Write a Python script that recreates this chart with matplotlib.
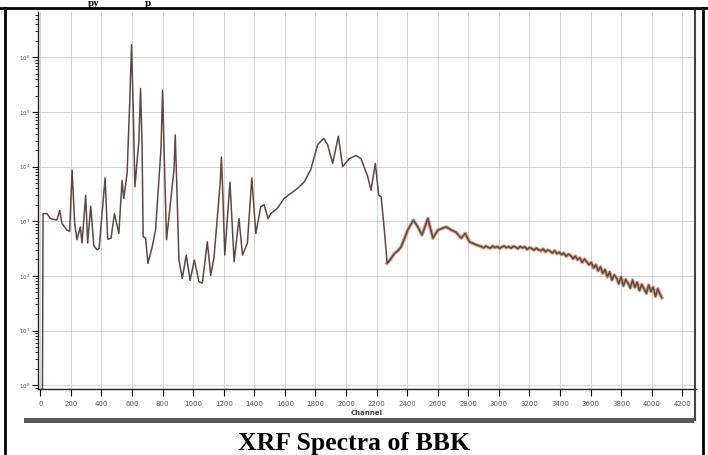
import matplotlib
matplotlib.use("Agg")
import matplotlib.pyplot as plt
from matplotlib.lines import Line2D
from matplotlib.patches import Rectangle
from matplotlib.ticker import LogLocator, NullFormatter, FixedLocator

# spectrum (channel, counts)
channel = [14, 18, 44, 66, 109, 127, 142, 175, 192, 208, 225, 240, 262, 273, 297,
           310, 330, 350, 371, 385, 424, 441, 463, 485, 514, 535, 546, 568, 585, 597,
           608, 619, 645, 656, 666, 673, 689, 704, 732, 754, 790, 800, 810, 826, 875,
           883, 891, 907, 929, 955, 980,
           1008, 1038, 1060, 1093, 1115, 1137, 1178, 1185, 1192, 1207, 1241, 1268, 1300,
           1323, 1355, 1384, 1410, 1443, 1464, 1490, 1508, 1552, 1596, 1639, 1683, 1727,
           1770, 1814, 1854, 1880, 1913, 1950, 1978, 2022, 2066, 2098, 2142, 2164,
           2192, 2214, 2230, 2251, 2269, 2290, 2317, 2340, 2361, 2404, 2441, 2470,
           2497, 2536, 2569, 2601, 2656, 2689, 2720, 2754, 2780, 2808, 2863,
           2885, 2900, 2915, 2930, 2945, 2960, 2975, 2990, 3005, 3020, 3035, 3050,
           3065, 3080, 3095, 3110, 3125, 3140, 3155, 3170, 3185, 3200, 3215, 3230,
           3245, 3260, 3275, 3290, 3305, 3320, 3335, 3350, 3365, 3380, 3395, 3410,
           3425, 3440, 3455, 3470, 3485, 3500, 3515, 3530, 3545, 3560, 3575, 3590,
           3605, 3620, 3635, 3650, 3665, 3680, 3695, 3710, 3725, 3740, 3755, 3770,
           3785, 3800, 3815, 3830, 3845, 3860, 3875, 3890, 3905, 3920, 3935, 3950,
           3965, 3980, 3995, 4010, 4025, 4040, 4055, 4066]
counts = [0.5, 1380, 1380, 1120, 1050, 1580, 910, 690, 650, 8700, 910, 460, 790, 400, 3000,
          400, 1900, 360, 300, 320, 6200, 470, 490, 1380, 600, 5600, 2600, 7600, 1.5e5, 1.7e6,
          1.2e5, 4300, 3.0e4, 2.7e5, 2.5e4, 520, 490, 170, 340, 690, 2.2e4, 2.5e5, 2.0e4, 460, 9000,
          38000, 7000, 195, 90, 240, 83,
          195, 78, 74, 420, 102, 224, 5500, 15000, 5000, 240, 5200, 182, 1120,
          240, 400, 6200, 600, 1860, 2000, 1120, 1380, 1740, 2630, 3240, 4000, 5250,
          8900, 25000, 33000, 25000, 11500, 36000, 10000, 14000, 16000, 14000, 6600, 3700,
          11500, 3000, 2800, 690, 170, 200, 257, 290, 340, 690, 1050, 790,
          560, 1120, 490, 690, 790, 690, 630, 490, 600, 420, 360,
          345, 326, 350, 334, 322, 352, 330, 346, 318, 338, 352, 328,
          344, 322, 348, 336, 316, 344, 326, 340, 306, 330, 318, 296,
          322, 300, 290, 312, 276, 298, 284, 262, 290, 256, 270, 246,
          262, 228, 250, 236, 206, 230, 198, 214, 176, 204, 180, 160,
          176, 140, 160, 124, 146, 112, 130, 96, 118, 84, 104, 92,
          72, 96, 66, 86, 74, 60, 84, 62, 76, 54, 70, 58,
          48, 68, 52, 62, 42, 58, 46, 40]

xticks = list(range(0, 4201, 200))
decades = [1, 10, 100, 1000, 1e4, 1e5, 1e6]
ylabels = [r"$10^{%d}$" % i for i in range(7)]

W, H = 708, 455
fig = plt.figure(figsize=(W / 100, H / 100), dpi=100)


def fx(px):
    return px / W


def fy(py):
    return 1 - py / H


ax = fig.add_axes([fx(38), fy(389), fx(696) - fx(38), fy(12) - fy(389)])
ax.set_yscale("log")
ax.set_xlim(-15, 4290)
ax.set_ylim(10 ** -0.07, 10 ** 6.83)

ax.set_xticks(xticks)
ax.set_xticklabels([str(t) for t in xticks], fontsize=5, color="#555555")
ax.yaxis.set_major_locator(FixedLocator(decades))
ax.set_yticklabels(ylabels, fontsize=4, color="#555555")
ax.yaxis.set_minor_locator(LogLocator(base=10, subs=range(2, 10)))
ax.yaxis.set_minor_formatter(NullFormatter())
ax.tick_params(axis="x", direction="out", length=5, width=0.8, pad=4)
ax.tick_params(axis="y", which="major", direction="out", length=4, width=0.8, pad=1.5)
ax.tick_params(axis="y", which="minor", direction="out", length=2, width=0.6)

ax.grid(True, which="major", color="#cdcdcd", linewidth=0.6)
for s in ["top", "right"]:
    ax.spines[s].set_visible(False)
for s in ["left", "bottom"]:
    ax.spines[s].set_linewidth(1.0)
    ax.spines[s].set_color("#222222")

ax.set_xlabel("Channel", fontsize=5, fontweight="bold", color="#444444", labelpad=2)

# tail of the spectrum has an orange cast in the scan
tail = [i for i, c in enumerate(channel) if c >= 2269]
ax.plot([channel[i] for i in tail], [counts[i] for i in tail],
        color="#c87a4c", linewidth=2.6, alpha=0.7, zorder=2)
ax.plot(channel, counts, color="#5c4846", linewidth=1.1, zorder=3)

# scan frame and table cell borders
fig.add_artist(Rectangle((fx(24), fy(423)), fx(694) - fx(24), fy(418) - fy(423),
                         transform=fig.transFigure, color="#5a5a5a", lw=0))
fig.add_artist(Line2D([fx(695), fx(695)], [fy(10), fy(420)], transform=fig.transFigure,
                      color="#444444", linewidth=1.5))
fig.add_artist(Line2D([fx(0), fx(708)], [fy(8), fy(8)], transform=fig.transFigure,
                      color="black", linewidth=2.0))
fig.add_artist(Line2D([fx(5), fx(5)], [fy(8), fy(455)], transform=fig.transFigure,
                      color="black", linewidth=2.0))
fig.add_artist(Line2D([fx(703), fx(703)], [fy(8), fy(455)], transform=fig.transFigure,
                      color="black", linewidth=2.0))

# heading fragments at the top of the cell
fig.text(fx(88), fy(5.5), "py", fontsize=8, fontweight="bold", family="Liberation Serif",
         va="baseline", ha="left")
fig.text(fx(145), fy(5.5), "p", fontsize=8, fontweight="bold", family="Liberation Serif",
         va="baseline", ha="left")

fig.text(fx(354), fy(450), "XRF Spectra of BBK", fontsize=18.5, fontweight="bold",
         family="Liberation Serif", va="baseline", ha="center")

fig.savefig("out.png", dpi=100)
